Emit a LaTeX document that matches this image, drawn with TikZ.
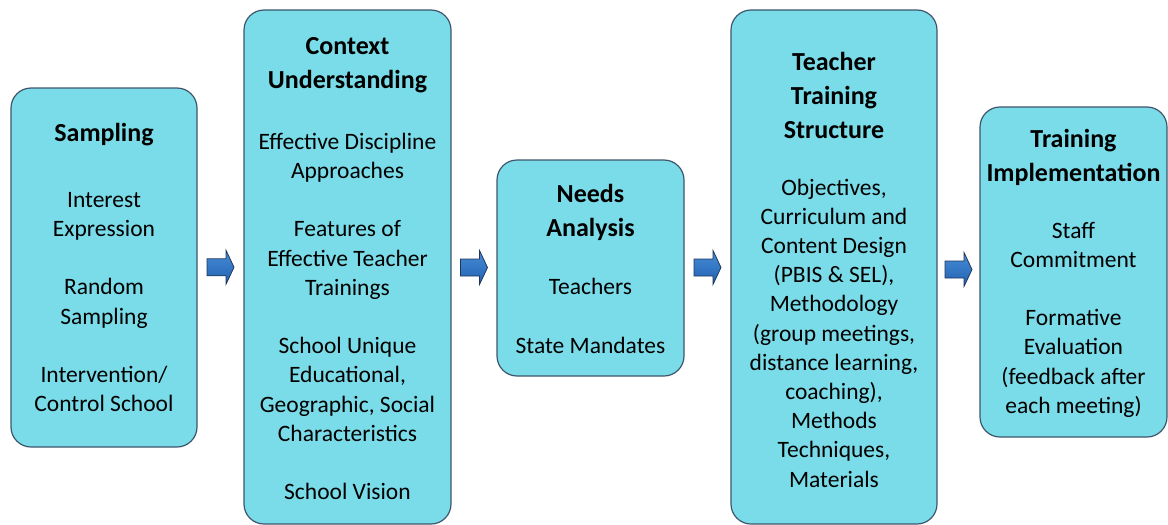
\documentclass[tikz,border=0pt]{standalone}
\usepackage{fontspec}
\setmainfont{Carlito}
\usetikzlibrary{calc}

\definecolor{boxfill}{RGB}{122,220,232}
\definecolor{boxline}{RGB}{62,86,108}
\definecolor{arrowtop}{RGB}{72,142,216}
\definecolor{arrowbot}{RGB}{32,96,176}
\definecolor{arrowline}{RGB}{30,55,90}

\begin{document}
\begin{tikzpicture}[x=1pt,y=-1pt,
    stage/.style={draw=boxline,line width=1.2pt,fill=boxfill,rounded corners=20pt,inner sep=0pt},
    head/.style={font=\fontsize{26}{34}\selectfont\bfseries,align=center,inner sep=0pt},
    body/.style={font=\fontsize{23.5}{29.2}\selectfont,align=center,inner sep=0pt},
    flow/.pic={\draw[draw=arrowline,line width=0.8pt,top color=arrowtop,bottom color=arrowbot]
        (-13.5,-8.5) -- (5.5,-8.5) -- (5.5,-17) -- (13.5,0) -- (5.5,17) -- (5.5,8.5) -- (-13.5,8.5) -- cycle;}]

    \useasboundingbox (0,0) rectangle (1168,525);

    % the five stages
    \node[stage,minimum width=186pt,minimum height=359pt] (samp) at (104,267.5) {};
    \node[stage,minimum width=207pt,minimum height=514pt] (ctx) at (347.5,267) {};
    \node[stage,minimum width=187pt,minimum height=216pt] (needs) at (590.5,268) {};
    \node[stage,minimum width=206pt,minimum height=514pt] (tts) at (834,267) {};
    \node[stage,minimum width=187pt,minimum height=330pt] (impl) at (1073.5,272) {};

    % titles
    \node[head] (sampT) at (104,135) {Sampling};
    \node[head] (ctxT) at (347.5,65) {Context\\Understanding};
    \node[head] (needsT) at (590.5,212) {Needs\\Analysis};
    \node[head] (ttsT) at (834,95) {Teacher\\Training\\Structure};
    \node[head] (implT) at (1073.5,157) {Training\\Implementation};

    % contents
    \node[body] (sampB) at (104,302) {Interest\\Expression\\[29.2pt]Random\\Sampling\\[29.2pt]Intervention/\\Control School};
    \node[body] (ctxB) at (347.5,316.5) {Effective Discipline\\Approaches\\[29.2pt]Features of\\Effective Teacher\\Trainings\\[29.2pt]School Unique\\Educational,\\Geographic, Social\\Characteristics\\[29.2pt]School Vision};
    \node[body] (needsB) at (590.5,316) {Teachers\\[29.2pt]State Mandates};
    \node[body] (ttsB) at (834,333) {Objectives,\\Curriculum and\\Content Design\\(PBIS \& SEL),\\Methodology\\(group meetings,\\distance learning,\\coaching),\\Methods\\Techniques,\\Materials};
    \node[body] (implB) at (1073.5,319.5) {Staff\\Commitment\\[29.2pt]Formative\\Evaluation\\(feedback after\\each meeting)};

    % block arrows between stages
    \pic at ($(samp.east)!0.5!(ctx.west)$) {flow};
    \pic at ($(ctx.east)!0.5!(needs.west)$) {flow};
    \pic at ($(needs.east)!0.5!(tts.west)$) {flow};
    \pic at ($(tts.east)!0.5!(impl.west)$) {flow};
\end{tikzpicture}
\end{document}
